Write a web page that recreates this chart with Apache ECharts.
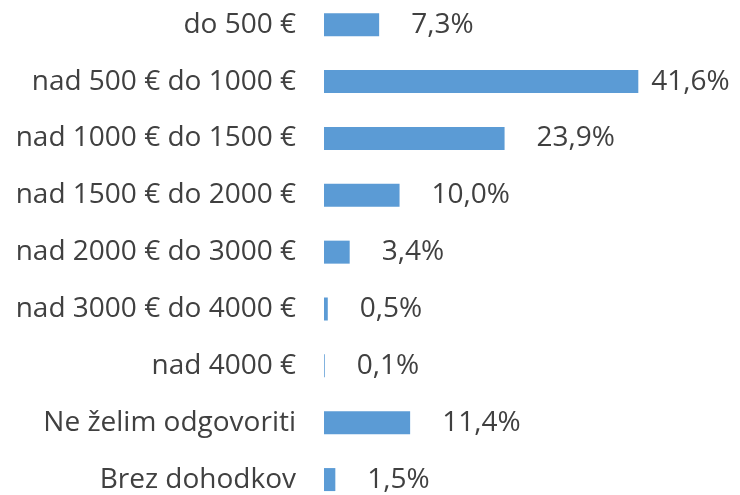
<!DOCTYPE html>
<html>
<head>
<meta charset="utf-8">
<script src="https://cdn.jsdelivr.net/npm/echarts@6/dist/echarts.min.js"></script>
<style>
  html, body { margin: 0; padding: 0; background: #fff; }
  #chart { width: 740px; height: 495px; }
</style>
</head>
<body>
<div id="chart"></div>
<script>
// kategorije dohodka
const categories = [
  'do 500 €',
  'nad 500 € do 1000 €',
  'nad 1000 € do 1500 €',
  'nad 1500 € do 2000 €',
  'nad 2000 € do 3000 €',
  'nad 3000 € do 4000 €',
  'nad 4000 €',
  'Ne želim odgovoriti',
  'Brez dohodkov'
];
const shares = [7.3, 41.6, 23.9, 10.0, 3.4, 0.5, 0.1, 11.4, 1.5];

const textColor = '#404040';
const font = '"Open Sans", "Noto Sans", sans-serif';

const chart = echarts.init(document.getElementById('chart'));

// najdaljsi stolpec ima oznako blizje (kot v Excelu)
const maxShare = Math.max(...shares);
const seriesData = shares.map(v => {
  const item = { value: v };
  if (v === maxShare) {
    item.label = { distance: 13 };
  }
  return item;
});

const option = {
  animation: false,
  grid: {
    left: 324,
    width: 340,
    top: -3.7,
    height: 511.7,
    outerBoundsMode: 'none',
    containLabel: false
  },
  xAxis: {
    type: 'value',
    min: 0,
    max: 45,
    show: false
  },
  yAxis: {
    type: 'category',
    data: categories,
    inverse: true,
    axisLine: { show: false },
    axisTick: { show: false },
    splitLine: { show: false },
    axisLabel: {
      margin: 28,
      color: textColor,
      fontFamily: font,
      fontSize: 28
    }
  },
  series: [
    {
      type: 'bar',
      data: seriesData,
      barWidth: 23,
      itemStyle: { color: '#5B9BD5' },
      label: {
        show: true,
        position: 'right',
        distance: 32,
        color: textColor,
        fontFamily: font,
        fontSize: 28,
        formatter: p => p.value.toFixed(1).replace('.', ',') + '%'
      }
    }
  ]
};

chart.setOption(option);
</script>
</body>
</html>
